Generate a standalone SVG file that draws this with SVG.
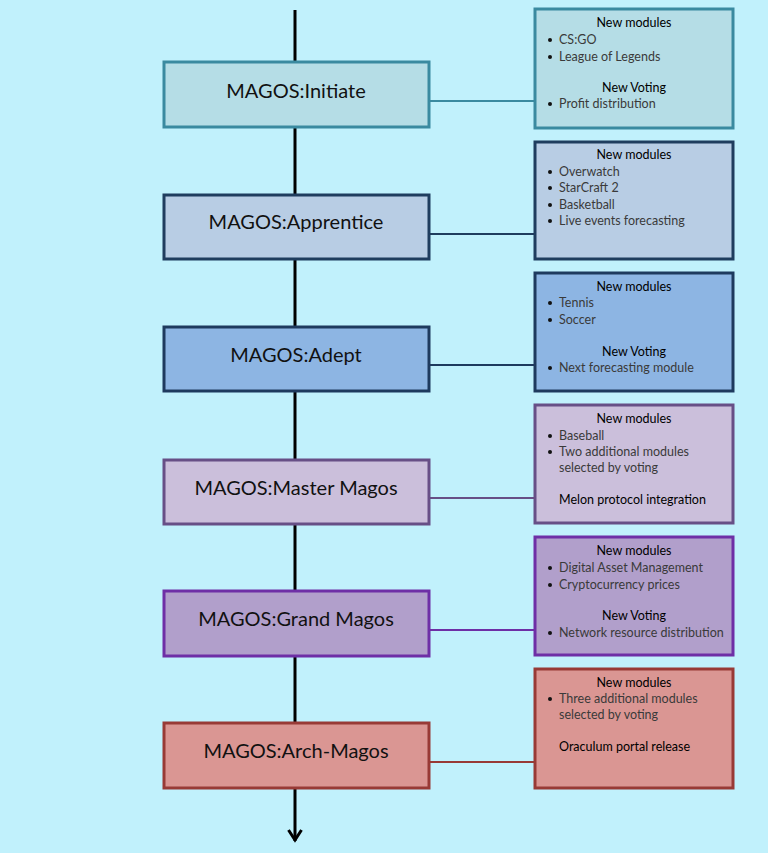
<svg xmlns="http://www.w3.org/2000/svg" width="768" height="853" viewBox="0 0 768 853">
<style>
.bg{fill:#c1f1fc}
.stage{stroke-width:3}
.lbl{font-family:Lato,"Open Sans","Liberation Sans",sans-serif;font-size:20px;fill:#111;text-anchor:middle}
.info{stroke-width:3}
.h{font-family:Lato,"Open Sans","Liberation Sans",sans-serif;font-size:12.5px;fill:#000;text-anchor:middle}
.hl{font-family:Lato,"Open Sans","Liberation Sans",sans-serif;font-size:12.5px;fill:#000}
.it{font-family:Lato,"Open Sans","Liberation Sans",sans-serif;font-size:12.5px;fill:#3a3a3a}
.b{fill:#111}
.spine{stroke:#000;stroke-width:3;fill:none}
</style>
<defs>
<marker id="arr" markerWidth="18" markerHeight="18" refX="13" refY="8" orient="auto" markerUnits="userSpaceOnUse">
<path d="M2,1.5 L12,8 L2,14.5" fill="none" stroke="#000" stroke-width="3"/>
</marker>
</defs>
<rect class="bg" x="0" y="0" width="768" height="853"/>
<g id="connectors">
<line class="spine" x1="295" y1="10" x2="295" y2="841" marker-end="url(#arr)"/>
<line x1="429" y1="101" x2="534" y2="101" stroke="#3a8aa0" stroke-width="2"/>
<line x1="429" y1="234" x2="534" y2="234" stroke="#1f3d5e" stroke-width="2"/>
<line x1="429" y1="365" x2="534" y2="365" stroke="#1e3a5e" stroke-width="2"/>
<line x1="429" y1="498" x2="534" y2="498" stroke="#674f86" stroke-width="2"/>
<line x1="429" y1="630" x2="534" y2="630" stroke="#6e2fa6" stroke-width="2"/>
<line x1="429" y1="762" x2="534" y2="762" stroke="#983a36" stroke-width="2"/>
</g>
<g id="initiate">
<rect class="stage" x="164" y="62" width="265" height="65" fill="#b5dde6" stroke="#3a8aa0"/>
<text class="lbl" x="296" y="98">MAGOS:Initiate</text>
</g>
<g id="apprentice">
<rect class="stage" x="164" y="195" width="265" height="64" fill="#b8cde4" stroke="#1f3d5e"/>
<text class="lbl" x="296" y="229">MAGOS:Apprentice</text>
</g>
<g id="adept">
<rect class="stage" x="164" y="327" width="265" height="64" fill="#8db5e3" stroke="#1e3a5e"/>
<text class="lbl" x="296" y="362">MAGOS:Adept</text>
</g>
<g id="master">
<rect class="stage" x="164" y="460" width="265" height="64" fill="#cbbfdb" stroke="#674f86"/>
<text class="lbl" x="296" y="495">MAGOS:Master Magos</text>
</g>
<g id="grand">
<rect class="stage" x="164" y="591" width="265" height="65" fill="#b19fcb" stroke="#6e2fa6"/>
<text class="lbl" x="296" y="626">MAGOS:Grand Magos</text>
</g>
<g id="arch">
<rect class="stage" x="164" y="723" width="265" height="65" fill="#da9693" stroke="#983a36"/>
<text class="lbl" x="296" y="758">MAGOS:Arch-Magos</text>
</g>
<g id="info-initiate">
<rect class="info" x="535" y="9" width="198" height="119" fill="#b5dde6" stroke="#3a8aa0"/>
<text class="h" x="634" y="27">New modules</text>
<circle class="b" cx="550" cy="40" r="2"/><text class="it" x="559" y="44">CS:GO</text>
<circle class="b" cx="550" cy="57" r="2"/><text class="it" x="559" y="61">League of Legends</text>
<text class="h" x="634" y="92">New Voting</text>
<circle class="b" cx="550" cy="104" r="2"/><text class="it" x="559" y="108">Profit distribution</text>
</g>
<g id="info-apprentice">
<rect class="info" x="535" y="142" width="198" height="117" fill="#b8cde4" stroke="#1f3d5e"/>
<text class="h" x="634" y="159">New modules</text>
<circle class="b" cx="550" cy="172" r="2"/><text class="it" x="559" y="176">Overwatch</text>
<circle class="b" cx="550" cy="188" r="2"/><text class="it" x="559" y="192">StarCraft 2</text>
<circle class="b" cx="550" cy="205" r="2"/><text class="it" x="559" y="209">Basketball</text>
<circle class="b" cx="550" cy="221" r="2"/><text class="it" x="559" y="225">Live events forecasting</text>
</g>
<g id="info-adept">
<rect class="info" x="535" y="273" width="198" height="118" fill="#8db5e3" stroke="#1e3a5e"/>
<text class="h" x="634" y="291">New modules</text>
<circle class="b" cx="550" cy="303" r="2"/><text class="it" x="559" y="307">Tennis</text>
<circle class="b" cx="550" cy="320" r="2"/><text class="it" x="559" y="324">Soccer</text>
<text class="h" x="634" y="356">New Voting</text>
<circle class="b" cx="550" cy="368" r="2"/><text class="it" x="559" y="372">Next forecasting module</text>
</g>
<g id="info-master">
<rect class="info" x="535" y="405" width="198" height="118" fill="#cbbfdb" stroke="#674f86"/>
<text class="h" x="634" y="423">New modules</text>
<circle class="b" cx="550" cy="436" r="2"/><text class="it" x="559" y="440">Baseball</text>
<circle class="b" cx="550" cy="452" r="2"/><text class="it" x="559" y="456">Two additional modules</text>
<text class="it" x="559" y="472">selected by voting</text>
<text class="hl" x="559" y="504">Melon protocol integration</text>
</g>
<g id="info-grand">
<rect class="info" x="535" y="537" width="198" height="118" fill="#b19fcb" stroke="#6e2fa6"/>
<text class="h" x="634" y="555">New modules</text>
<circle class="b" cx="550" cy="568" r="2"/><text class="it" x="559" y="572">Digital Asset Management</text>
<circle class="b" cx="550" cy="585" r="2"/><text class="it" x="559" y="589">Cryptocurrency prices</text>
<text class="h" x="634" y="620">New Voting</text>
<circle class="b" cx="550" cy="633" r="2"/><text class="it" x="559" y="637">Network resource distribution</text>
</g>
<g id="info-arch">
<rect class="info" x="535" y="669" width="198" height="119" fill="#da9693" stroke="#983a36"/>
<text class="h" x="634" y="687">New modules</text>
<circle class="b" cx="550" cy="699" r="2"/><text class="it" x="559" y="703">Three additional modules</text>
<text class="it" x="559" y="719">selected by voting</text>
<text class="hl" x="559" y="751">Oraculum portal release</text>
</g>
</svg>
